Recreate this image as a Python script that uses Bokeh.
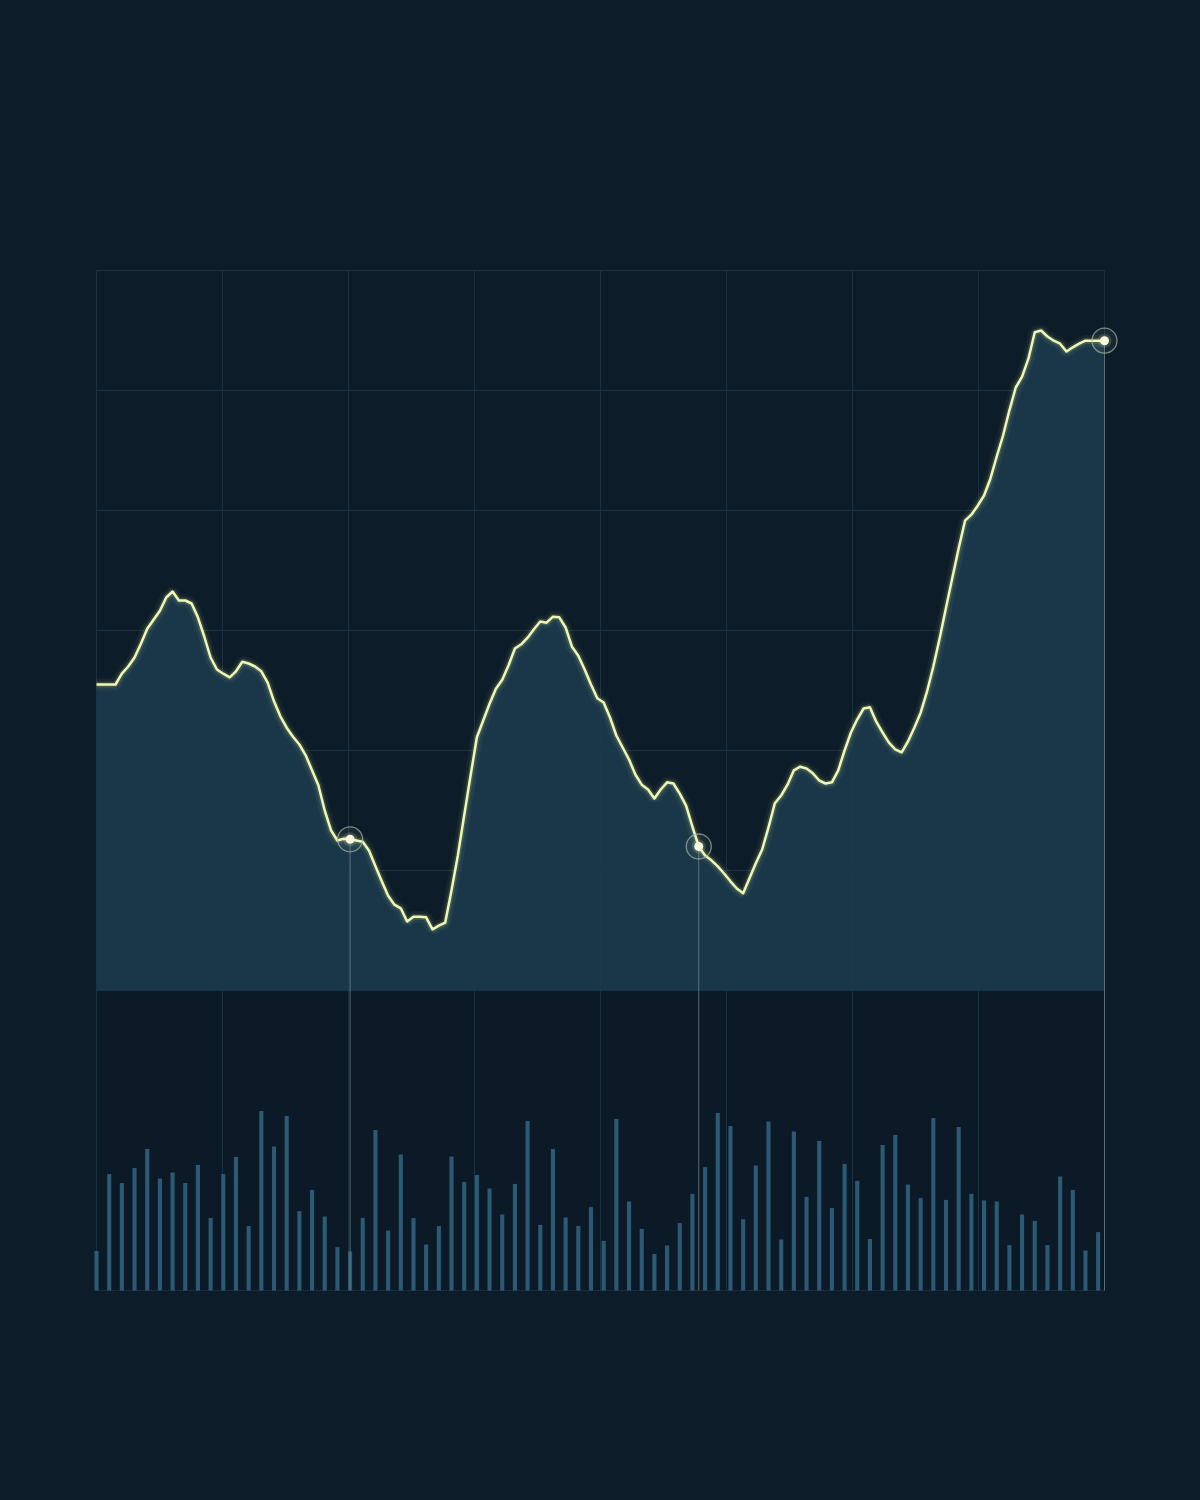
from bokeh.plotting import figure
from bokeh.models import Range1d
from bokeh.embed import file_html
from bokeh.resources import INLINE

# ---- data ----
price = [111.0, 111.0, 111.0, 111.0, 112.8, 114.0, 115.5, 117.8, 120.3, 121.8,
         123.3, 125.5, 126.5, 125.0, 125.0, 124.5, 122.2, 119.0, 115.5, 113.5,
         112.8, 112.2, 113.2, 114.8, 114.5, 114.0, 113.2, 111.3, 108.2, 105.7,
         103.8, 102.3, 101.0, 99.2, 96.7, 94.2, 90.0, 86.7, 85.0, 85.3,
         85.2, 85.0, 84.8, 83.3, 80.7, 78.2, 75.8, 74.3, 73.7, 71.5,
         72.3, 72.3, 72.2, 70.2, 70.8, 71.3, 76.7, 82.5, 89.2, 95.8,
         102.2, 105.0, 107.8, 110.3, 111.8, 114.2, 117.0, 117.7, 118.8, 120.2,
         121.5, 121.3, 122.3, 122.2, 120.5, 117.3, 115.8, 113.5, 111.0, 108.7,
         108.0, 105.5, 102.5, 100.5, 98.5, 96.0, 94.3, 93.5, 92.0, 93.5,
         94.7, 94.5, 92.8, 90.8, 87.3, 84.0, 82.5, 81.7, 80.7, 79.5,
         78.2, 77.0, 76.2, 78.7, 81.2, 83.5, 87.2, 91.2, 92.5, 94.3,
         96.7, 97.3, 97.0, 96.2, 95.0, 94.5, 94.7, 96.7, 100.0, 103.0,
         105.2, 107.0, 107.2, 104.8, 103.0, 101.3, 100.2, 99.7, 101.5, 103.8,
         106.3, 109.8, 114.0, 118.7, 123.8, 128.8, 133.7, 138.3, 139.3, 140.8,
         142.5, 145.3, 149.0, 152.5, 156.7, 160.5, 162.3, 165.3, 169.7, 170.0,
         169.0, 168.3, 167.8, 166.5, 167.2, 167.8, 168.3, 168.3, 168.3, 168.3]
steps = list(range(len(price)))

volume = [19.7, 58.3, 53.7, 61.3, 70.8, 56.0, 59.0, 53.7, 62.7, 36.2,
          58.3, 66.7, 32.3, 89.7, 72.0, 87.2, 39.7, 50.3, 37.0, 21.7,
          19.5, 36.3, 80.3, 30.0, 68.0, 36.2, 23.0, 32.2, 67.0, 54.3,
          57.8, 51.0, 38.0, 53.3, 84.7, 32.8, 70.8, 36.5, 32.3, 41.7,
          24.8, 85.7, 44.5, 30.8, 18.3, 22.5, 33.7, 48.3, 61.7, 88.8,
          82.3, 35.7, 62.5, 84.5, 25.5, 79.5, 46.8, 74.7, 41.3, 63.3,
          54.8, 25.8, 72.8, 77.7, 53.0, 46.2, 86.3, 45.3, 81.7, 48.3,
          45.0, 44.5, 22.7, 38.0, 34.8, 22.7, 57.0, 50.3, 20.0, 29.2]
vol_steps = [2 * i for i in range(len(volume))]

highlights = [40, 95, 159]

price_grid = [60, 80, 100, 120, 140, 160, 180]
price_floor = 60
panel_bottom = 10

BG = "#0c1c28"

p = figure(width=1200, height=1500, output_backend="svg", toolbar_location=None,
           x_range=Range1d(-15.143, 174.143), y_range=Range1d(-25, 225),
           x_axis_location=None, y_axis_location=None, min_border=0,
           background_fill_color=BG, border_fill_color=BG, outline_line_color=None)
p.extra_y_ranges = {"vol": Range1d(-105, 645)}
p.xgrid.visible = False
p.ygrid.visible = False

# faint lower panel tint
p.quad(left=0, right=steps[-1], bottom=panel_bottom, top=price_floor,
       fill_color="#0a1923", fill_alpha=0.45, line_color=None)

# grid
xg = [k * steps[-1] / 8 for k in range(9)]
p.segment(x0=xg, y0=[panel_bottom] * 9, x1=xg, y1=[price_grid[-1]] * 9,
          line_color="#1e3444", line_width=1, line_alpha=0.9)
p.segment(x0=[0] * len(price_grid), y0=price_grid, x1=[steps[-1]] * len(price_grid),
          y1=price_grid, line_color="#1e3444", line_width=1, line_alpha=0.9)
p.segment(x0=[0], y0=[panel_bottom], x1=[steps[-1]], y1=[panel_bottom],
          line_color="#182c3a", line_width=1)

# area under the line
p.varea(x=steps, y1=[price_floor] * len(steps), y2=price,
        fill_color="#1c3b4d", fill_alpha=0.9)

# volume bars
p.vbar(x=vol_steps, width=0.65, top=volume, bottom=0, y_range_name="vol",
       fill_color="#30607c", line_color=None, fill_alpha=0.9)

# highlight verticals
hx = highlights
hy = [price[i] for i in hx]
p.segment(x0=hx, y0=hy, x1=hx, y1=[panel_bottom] * len(hx),
          line_color="#6a7f8a", line_width=1, line_alpha=0.8)

# glowing line
p.line(steps, price, line_color="#e6f39c", line_width=12, line_alpha=0.05)
p.line(steps, price, line_color="#e6f39c", line_width=6, line_alpha=0.15)
p.line(steps, price, line_color="#eef8b4", line_width=2.5, line_join="round")

# markers
p.scatter(hx, hy, size=25, fill_color="#dfe8c0", fill_alpha=0.06,
          line_color="#a8b4aa", line_alpha=0.7, line_width=1.3)
p.scatter(hx, hy, size=14, fill_color="#f4f8d0", fill_alpha=0.15, line_color=None)
p.scatter(hx, hy, size=9, fill_color="#f6f9dc", line_color=None)

html = file_html(p, INLINE)
html = html.replace("<head>", "<head><style>html,body{background:%s;}</style>" % BG, 1)
open("out.html", "w").write(html)
